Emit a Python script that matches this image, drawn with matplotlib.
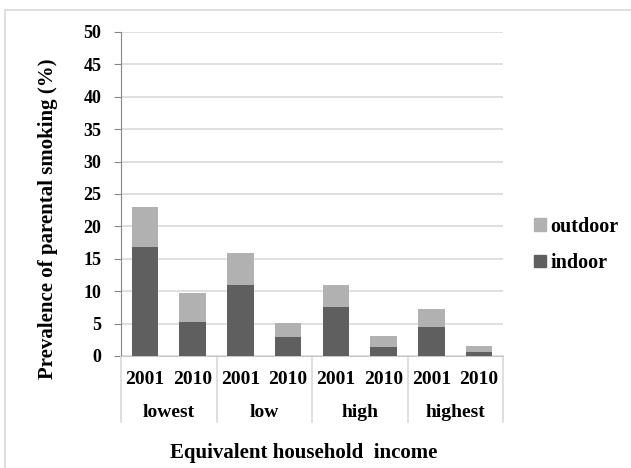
import matplotlib.pyplot as plt
import matplotlib.transforms as mtransforms
from matplotlib.patches import Rectangle, Patch

# data
groups = ["lowest", "low", "high", "highest"]
years = ["2001", "2010"]
indoor = [16.8, 5.2, 11.0, 2.9, 7.6, 1.4, 4.4, 0.6]
outdoor = [6.2, 4.5, 4.9, 2.2, 3.4, 1.7, 2.9, 1.0]

c_in = "#5f5f5f"
c_out = "#b1b1b1"

plt.rcParams['font.family'] = ['Liberation Serif', 'DejaVu Serif']
plt.rcParams['font.weight'] = 'bold'

fig = plt.figure(figsize=(6.31, 4.68), dpi=100)
ax = fig.add_axes([121 / 631, 1 - 356 / 468, 382 / 631, 324 / 468])

# outer frame
fig.patches.append(Rectangle((4.5 / 631, -0.1), 1.1, 1 - 9.5 / 468 + 0.1,
                             transform=fig.transFigure, fill=False,
                             edgecolor="#d9d9d9", linewidth=1.2))

x = list(range(len(indoor)))
ax.bar(x, indoor, width=0.55, color=c_in, zorder=3)
ax.bar(x, outdoor, width=0.55, bottom=indoor, color=c_out, zorder=3)

ax.set_xlim(-0.5, 7.5)
ax.set_ylim(0, 50)
ax.set_yticks(range(0, 51, 5))
ax.yaxis.grid(True, color="#d9d9d9", linewidth=1.2, zorder=0)
ax.tick_params(axis="y", length=5, color="#868686", labelsize=13, pad=9)
ax.set_xticks([])
for s in ["top", "right"]:
    ax.spines[s].set_visible(False)
ax.spines["left"].set_color("#868686")
ax.spines["bottom"].set_color("#c8c8c8")

# two level category labels
tr = mtransforms.blended_transform_factory(ax.transData, ax.transAxes)
for i in x:
    ax.text(i, -0.072, years[i % 2], transform=tr, ha="center", va="center",
            fontsize=14, fontweight="bold")
for g, name in enumerate(groups):
    ax.text(2 * g + 0.5, -0.175, name, transform=tr, ha="center", va="center",
            fontsize=14, fontweight="bold")
for b in [-0.5, 1.5, 3.5, 5.5, 7.5]:
    ax.plot([b, b], [0, -0.204], transform=tr, color="#d9d9d9",
            linewidth=1.2, clip_on=False)

ax.set_ylabel("Prevalence of parental smoking (%)", fontsize=15,
              fontweight="bold")
ax.yaxis.set_label_coords(-0.165, 0.424)
fig.text(304 / 631, 1 - 453 / 468, "Equivalent household  income",
         ha="center", va="center", fontsize=15, fontweight="bold")

handles = [Patch(color=c_out, label="outdoor"), Patch(color=c_in, label="indoor")]
fig.legend(handles=handles, loc="center left", bbox_to_anchor=(516 / 631, 1 - 245 / 468),
           frameon=False, fontsize=14.5, handlelength=0.6, handleheight=0.6,
           handletextpad=0.2, labelspacing=0.8)

fig.savefig("out.png", dpi=100)
